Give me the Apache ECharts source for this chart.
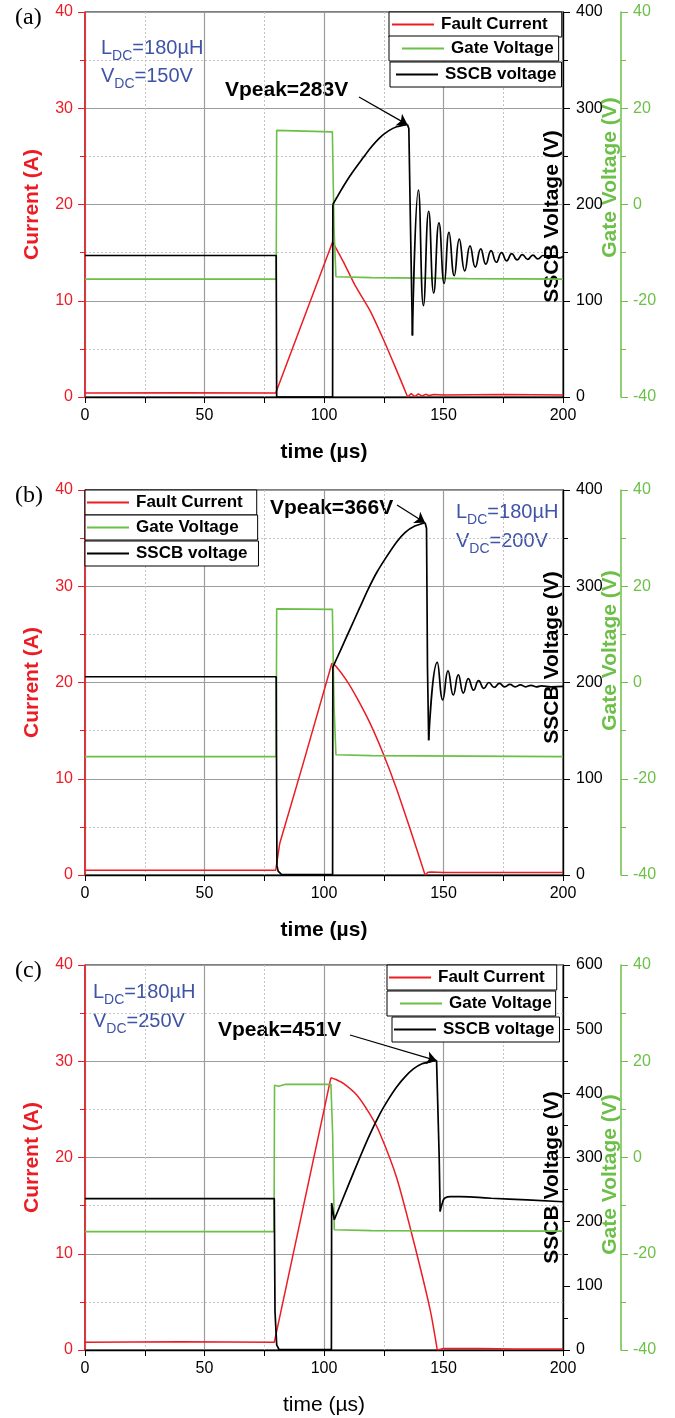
<!DOCTYPE html>
<html>
<head>
<meta charset="utf-8">
<script src="https://cdn.jsdelivr.net/npm/echarts@6/dist/echarts.min.js"></script>
<style>
  html, body { margin: 0; padding: 0; background: #fff; }
  #chart { width: 675px; height: 1418px; }
</style>
</head>
<body>
<div id="chart"></div>
<script>
// ---- Measured waveforms: time in µs, current in A, voltages in V ----
const timeTicks = [0, 50, 100, 150, 200];

// Peak SSCB voltages
const vpeakA = 283, vpeakB = 366, vpeakC = 451;

// (a) VDC = 150 V
const currentA_ramp = [[0,0.42],[40,0.45],[79.8,0.42],[80.4,0.6],[91.3,8.0],[103.6,16.1]];
const currentA_fall = [[103.6,16.1],[108,14.1],[113,11.6],[119.2,9.0],[125,5.9],[130,3.0],[135,0]];
const currentA_tail = [[135,0],[136.5,0.35],[138,0.05],[139.5,0.32],[141,0.1],[142.5,0.28],[144,0.15],[146,0.26],[150,0.2],[175,0.25],[200,0.22]];
const gateA = [[0,-15.5],[80.0,-15.5],[80.2,15.4],[81,15.1],[103.5,15.1],[104.2,-5],[105,-15.0],[120,-15.2],[160,-15.4],[200,-15.5]];
const sscbA_step = [[0,147],[80.0,147],[80.2,0],[103.6,0],[103.7,200]];
const sscbA_rise = [[103.7,200],[105.3,207],[108,218.5],[111.5,232],[116.5,249],[119.2,258],[123.4,269.5],[127,276.5],[130.4,280.8],[134.9,vpeakA]];
const sscbA_drop = [[134.9,vpeakA],[135.5,279],[136.1,190],[137.0,64]];
const sscbA_ring = [[137.0,64],[139.5,215],[141.6,95],[143.8,193],[145.9,108],[148.1,181],[150.3,118],[152.3,171],[154.5,126],[156.6,164],[158.9,131],[161.1,157],[163.3,135],[165.6,154],[167.7,138],[169.9,152],[172.1,140],[174.3,150],[176.4,141.5],[178.6,149],[180.8,142.5],[183,148],[185.2,143],[187.4,147.5],[189.5,143.5],[191.7,147],[193.9,144],[196,147],[198.2,144.5],[200,146]];

// (b) VDC = 200 V
const currentB_ramp = [[0,0.5],[40,0.5],[79.8,0.5],[80.4,1.5],[81.5,3.3],[91.3,11.6],[103.3,22.0]];
const currentB_fall = [[103.3,22.0],[105,21.7],[109.5,20.2],[114,18.3],[119.2,15.8],[124.8,12.6],[130,9.2],[136,4.8],[142.3,0]];
const currentB_tail = [[142.3,0],[143.5,0.28],[145,0.3],[150,0.25],[175,0.25],[200,0.25]];
const gateB = [[0,-15.4],[80.0,-15.4],[80.2,15.3],[81,15.1],[103.5,15.2],[104.2,-5],[105,-15.0],[120,-15.2],[160,-15.3],[200,-15.4]];
const sscbB_step = [[0,206],[80.0,206],[80.3,10],[80.8,4],[82.3,0.5],[103.6,0.5],[103.7,216]];
const sscbB_rise = [[103.7,216],[107,234],[111,256],[115,278],[118.5,297],[122,314],[126,330],[130.4,346],[134,356],[138,362.5],[142.3,vpeakB]];
const sscbB_drop = [[142.3,vpeakB],[142.9,360],[143.3,215],[143.8,140]];
const sscbB_ring = [[143.8,140],[147.4,221],[149.7,182],[151.9,212],[154.1,187],[156.2,208],[158.3,189],[160.4,204],[162.6,192],[164.7,202],[166.9,194],[169,200],[171.2,195],[173.4,199],[175.6,195.5],[177.8,198],[180,195.5],[182.2,197.5],[184.4,195.5],[186.6,197],[188.8,195.5],[191,196.5],[195,195.5],[200,196]];

// (c) VDC = 250 V
const currentC_ramp = [[0,0.8],[40,0.85],[79.2,0.8],[102.9,28.3]];
const currentC_fall = [[102.9,28.3],[105,28.1],[108.1,27.7],[113.7,26.5],[119.2,24.5],[123.4,22.5],[130.4,17.9],[137.4,11.4],[144.4,4.2],[147.4,0]];
const currentC_tail = [[147.4,0],[150,0.15],[165,0.15],[180,0.1],[200,0.1]];
const gateC = [[0,-15.4],[79.1,-15.4],[79.3,15.0],[81,14.8],[84,15.2],[102.9,15.2],[103.6,5],[104.3,-15.0],[120,-15.2],[200,-15.3]];
const sscbC_step = [[0,236],[79.2,236],[79.5,60],[80.2,8],[81.2,0.5],[103.1,0.5],[103.2,229],[104.3,203]];
const sscbC_rise = [[104.3,203],[110,255],[115,300],[119.2,336],[123.4,368],[127,391],[130.4,410],[134,426],[137.4,438],[141,446],[144.4,449.5],[147.1,vpeakC]];
const sscbC_drop = [[147.1,vpeakC],[147.7,449],[148.2,300],[148.6,216]];
const sscbC_recover = [[148.6,216],[149.6,230],[150.6,237],[153,239],[157,239],[170,236.5],[185,234],[200,231]];

// Axis ranges
const currentRange = [0, 40];
const gateRange = [-40, 40];
const sscbMax = [400, 400, 600];
const panelLabels = ['(a)', '(b)', '(c)'];
const vdcLabels = ['150V', '200V', '250V'];

// ---- Styling ----
const FONT = '"Liberation Sans", Arial, Helvetica, sans-serif';
const RED = '#ec1c24';
const GREEN = '#6cbf47';
const BLUE = '#3f54a6';
const GRID_MAJOR = '#9c9c9c';
const GRID_MINOR = '#c4c4c4';
const gridTops = [12, 490, 965];
const PLOT_LEFT = 85, PLOT_W = 478, PLOT_H = 385;
// Right-axis title nudges along the axis (text padding [top, right, bottom, left])
const sscbNamePad = [[0, 24, 0, 0], [0, 0, 0, 50], [0, 40, 0, 0]];
const gateNamePad = [[0, 0, 0, 54], [0, 0, 0, 64], [0, 34, 0, 0]];

const chart = echarts.init(document.getElementById('chart'), null, { renderer: 'canvas' });

const grids = gridTops.map(t => ({
  left: PLOT_LEFT, top: t, width: PLOT_W, height: PLOT_H,
  show: true, borderColor: '#000', borderWidth: 1, backgroundColor: 'transparent',
  containLabel: false, outerBoundsMode: 'none'
}));

const xAxes = gridTops.map((t, i) => ({
  gridIndex: i, type: 'value', min: timeTicks[0], max: timeTicks[timeTicks.length - 1], interval: 50,
  axisLine: { show: true, onZero: false, lineStyle: { color: '#000', width: 1.3 } },
  axisTick: { show: true, length: 6, lineStyle: { color: '#000' } },
  minorTick: { show: true, splitNumber: 2, length: 6, lineStyle: { color: '#000' } },
  axisLabel: { color: '#000', fontSize: 16, fontFamily: FONT, margin: 11 },
  splitLine: { show: true, lineStyle: { color: GRID_MAJOR, width: 1.2 } },
  minorSplitLine: { show: true, lineStyle: { color: GRID_MINOR, width: 1, type: [2, 2] } },
  name: 'time (µs)', nameLocation: 'middle', nameGap: 45, nameMoveOverlap: false,
  nameTextStyle: { color: '#000', fontSize: 21, fontFamily: FONT, fontWeight: i < 2 ? 'bold' : 'normal' }
}));

const yAxes = [];
gridTops.forEach((t, i) => {
  yAxes.push({
    gridIndex: i, type: 'value', position: 'left', min: currentRange[0], max: currentRange[1], interval: 10,
    axisLine: { show: true, onZero: false, lineStyle: { color: RED, width: 1.5 } },
    axisTick: { show: true, length: 7, lineStyle: { color: RED } },
    minorTick: { show: true, splitNumber: 2, length: 5, lineStyle: { color: RED } },
    axisLabel: { color: RED, fontSize: 16, fontFamily: FONT, margin: 12 },
    splitLine: { show: true, lineStyle: { color: GRID_MAJOR, width: 1.2 } },
    minorSplitLine: { show: true, lineStyle: { color: GRID_MINOR, width: 1, type: [2, 2] } },
    name: 'Current (A)', nameLocation: 'middle', nameGap: 42, nameMoveOverlap: false,
    nameTextStyle: { color: RED, fontSize: 21, fontWeight: 'bold', fontFamily: FONT }
  });
  yAxes.push({
    gridIndex: i, type: 'value', position: 'right', min: 0, max: sscbMax[i], interval: 100,
    axisLine: { show: true, onZero: false, lineStyle: { color: '#000', width: 1.3 } },
    axisTick: { show: true, length: 7, lineStyle: { color: '#000' } },
    minorTick: { show: true, splitNumber: 2, length: 5, lineStyle: { color: '#000' } },
    axisLabel: { color: '#000', fontSize: 16, fontFamily: FONT, margin: 13 },
    splitLine: { show: false }, minorSplitLine: { show: false },
    name: 'SSCB Voltage (V)', nameLocation: 'middle', nameGap: -21, nameMoveOverlap: false,
    nameTextStyle: { color: '#000', fontSize: 21, fontWeight: 'bold', fontFamily: FONT, padding: sscbNamePad[i] }
  });
  yAxes.push({
    gridIndex: i, type: 'value', position: 'right', offset: 58, min: gateRange[0], max: gateRange[1], interval: 20,
    axisLine: { show: true, onZero: false, lineStyle: { color: GREEN, width: 1.5 } },
    axisTick: { show: true, length: 7, lineStyle: { color: GREEN } },
    minorTick: { show: true, splitNumber: 2, length: 5, lineStyle: { color: GREEN } },
    axisLabel: { color: GREEN, fontSize: 16, fontFamily: FONT, margin: 12 },
    splitLine: { show: false }, minorSplitLine: { show: false },
    name: 'Gate Voltage (V)', nameLocation: 'middle', nameGap: -21, nameMoveOverlap: false,
    nameTextStyle: { color: GREEN, fontSize: 21, fontWeight: 'bold', fontFamily: FONT, padding: gateNamePad[i] }
  });
});

function seg(name, data, gi, yi, color, width, smooth) {
  return {
    type: 'line', name, data, xAxisIndex: gi, yAxisIndex: gi * 3 + yi,
    symbol: 'none', showSymbol: false, smooth: smooth || false,
    lineStyle: { color, width }, itemStyle: { color },
    silent: true, animation: false, emphasis: { disabled: true }
  };
}

function arrow(startPx, peak) {
  return {
    silent: true, animation: false, symbol: ['none', 'arrow'], symbolSize: 10,
    lineStyle: { color: '#000', width: 1.3, type: 'solid' }, label: { show: false },
    emphasis: { disabled: true },
    data: [[{ x: startPx[0], y: startPx[1] }, { coord: peak }]]
  };
}

const series = [];
const panels = [
  { cur: [currentA_ramp, currentA_fall, currentA_tail], gate: gateA, step: sscbA_step, rise: sscbA_rise, drop: sscbA_drop, ring: sscbA_ring, arrowFrom: [359, 97] },
  { cur: [currentB_ramp, currentB_fall, currentB_tail], gate: gateB, step: sscbB_step, rise: sscbB_rise, drop: sscbB_drop, ring: sscbB_ring, arrowFrom: [397, 505] },
  { cur: [currentC_ramp, currentC_fall, currentC_tail], gate: gateC, step: sscbC_step, rise: sscbC_rise, drop: sscbC_drop, ring: sscbC_recover, arrowFrom: [350, 1035] }
];
panels.forEach((p, gi) => {
  series.push(seg('Fault Current', p.cur[0], gi, 0, RED, 1.5, false));
  series.push(seg('Fault Current', p.cur[1], gi, 0, RED, 1.5, 0.25));
  series.push(seg('Fault Current', p.cur[2], gi, 0, RED, 1.5, false));
  series.push(seg('Gate Voltage', p.gate, gi, 2, GREEN, 1.6, false));
  series.push(seg('SSCB voltage', p.step, gi, 1, '#000', 1.7, false));
  const rise = seg('SSCB voltage', p.rise, gi, 1, '#000', 1.7, 0.25);
  rise.markLine = arrow(p.arrowFrom, p.rise[p.rise.length - 1]);
  series.push(rise);
  series.push(seg('SSCB voltage', p.drop, gi, 1, '#000', 1.7, false));
  series.push(seg('SSCB voltage', p.ring, gi, 1, '#000', 1.7, 0.5));
});

// Legend boxes: one bordered box per entry, plain line key
function legendBox(name, left, top, padL, padR) {
  return {
    data: [{ name, icon: 'rect' }], left, top, orient: 'horizontal', selectedMode: false,
    itemWidth: 42, itemHeight: 2, itemGap: 0,
    padding: [3, padR, 3, padL],
    borderColor: '#000', borderWidth: 1, borderRadius: 0, backgroundColor: '#fff',
    textStyle: { color: '#000', fontSize: 17, fontWeight: 'bold', fontFamily: FONT, padding: [0, 0, 0, 2], lineHeight: 19 }
  };
}
const legends = [
  legendBox('Fault Current', 389, 12, 3, 14),
  legendBox('Gate Voltage', 389, 36, 13, 5),
  legendBox('SSCB voltage', 390, 62, 6, 5),
  legendBox('Fault Current', 85, 490, 2, 14),
  legendBox('Gate Voltage', 85, 515, 2, 19),
  legendBox('SSCB voltage', 85, 541, 2, 11),
  legendBox('Fault Current', 387, 965, 2, 12),
  legendBox('Gate Voltage', 387, 991, 13, 4),
  legendBox('SSCB voltage', 392, 1017, 2, 5)
];

// Text annotations
function ldcText(x, y, main, sub, rest) {
  return {
    type: 'text', x, y, silent: true,
    style: {
      text: '{m|' + main + '}{s|' + sub + '}{m|' + rest + '}',
      verticalAlign: 'middle',
      rich: {
        m: { fontSize: 20, fontFamily: FONT, fill: BLUE },
        s: { fontSize: 14, fontFamily: FONT, fill: BLUE, padding: [16, 0, 0, 0] }
      }
    }
  };
}
function plainText(x, y, text, size, weight, family) {
  return {
    type: 'text', x, y, silent: true,
    style: { text, fontSize: size, fontWeight: weight, fontFamily: family, fill: '#000', verticalAlign: 'middle' }
  };
}
const SERIF = '"Liberation Serif", "Times New Roman", serif';
const graphic = [
  plainText(15, 18, panelLabels[0], 24, 'normal', SERIF),
  plainText(15, 496, panelLabels[1], 24, 'normal', SERIF),
  plainText(15, 971, panelLabels[2], 24, 'normal', SERIF),
  ldcText(101, 48, 'L', 'DC', '=180µH'),
  ldcText(101, 76, 'V', 'DC', '=' + vdcLabels[0]),
  ldcText(456, 512, 'L', 'DC', '=180µH'),
  ldcText(456, 541, 'V', 'DC', '=' + vdcLabels[1]),
  ldcText(93, 992, 'L', 'DC', '=180µH'),
  ldcText(93, 1021, 'V', 'DC', '=' + vdcLabels[2]),
  plainText(225, 90, 'Vpeak=' + vpeakA + 'V', 21, 'bold', FONT),
  plainText(270, 508, 'Vpeak=' + vpeakB + 'V', 21, 'bold', FONT),
  plainText(218, 1030, 'Vpeak=' + vpeakC + 'V', 21, 'bold', FONT)
];

chart.setOption({
  animation: false,
  backgroundColor: '#fff',
  textStyle: { fontFamily: FONT },
  grid: grids,
  xAxis: xAxes,
  yAxis: yAxes,
  legend: legends,
  series,
  graphic
});
</script>
</body>
</html>
